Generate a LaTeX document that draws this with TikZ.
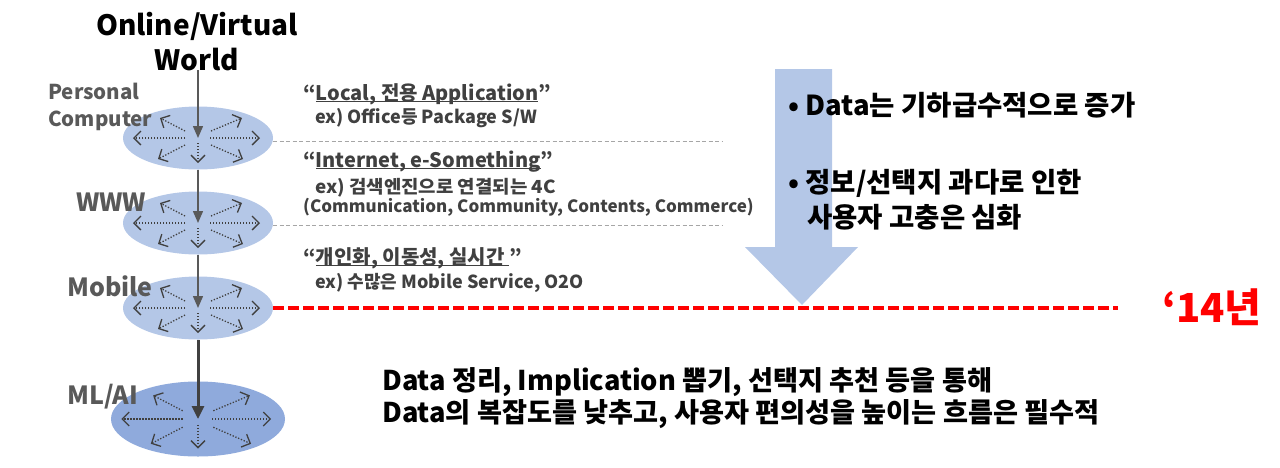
\documentclass[tikz,border=0pt]{standalone}
\usepackage{fontspec}
\setmainfont{Noto Sans CJK KR}
\usetikzlibrary{arrows.meta,shapes.geometric}
\definecolor{lightell}{RGB}{180,199,231}
\definecolor{darkell}{RGB}{143,170,220}
\definecolor{labgray}{RGB}{89,89,89}
\definecolor{txtgray}{RGB}{64,64,64}
\definecolor{raygray}{RGB}{64,64,64}
\definecolor{dashgray}{RGB}{166,166,166}
\definecolor{bigarrow}{RGB}{180,199,231}
\definecolor{redline}{RGB}{255,0,0}
\tikzset{
  ell/.style={ellipse, fill=lightell, draw=none, minimum width=150pt, minimum height=63pt, inner sep=0pt},
  ray/.style={draw=raygray, line width=1.3pt, dash pattern=on 1.3pt off 1.7pt, -{Straight Barb[length=7pt,width=14pt,line width=1.3pt]}},
  rays/.pic={
    \draw[ray] (-13,0) -- (-65,0);
    \draw[ray] (12,0) -- (62,0);
    \draw[ray] (-13,-7) -- (-38,-20);
    \draw[ray] (13,-7) -- (44,-20);
    \draw[ray] (-13,7) -- (-40,21);
    \draw[ray] (13,7) -- (45,21);
    \draw[ray] (0,5) -- (0,25);
  },
  mainarrow/.style={draw=labgray, line width=1.5pt, -{Triangle[length=12pt,width=10pt]}},
  thickarrow/.style={draw=txtgray, line width=3pt, -{Triangle[length=13pt,width=12pt]}},
  lab/.style={font=\fontsize{25}{29}\selectfont\bfseries, text=labgray, inner sep=0pt, anchor=base west},
  labs/.style={lab, font=\fontsize{20.5}{24}\selectfont\bfseries},
  quote/.style={font=\fontsize{20}{24}\selectfont\bfseries, text=txtgray, inner sep=0pt, anchor=base west},
  ex/.style={font=\fontsize{18}{21}\selectfont\bfseries, text=txtgray, inner sep=0pt, anchor=base west},
  big/.style={font=\fontsize{27.5}{32}\selectfont\bfseries, text=black, inner sep=0pt, anchor=base west},
  bottom/.style={big, font=\fontsize{27.2}{32}\selectfont\bfseries},
  graydash/.style={draw=dashgray, line width=0.9pt, dash pattern=on 4pt off 2.5pt},
  reddash/.style={draw=redline, line width=4pt, dash pattern=on 11pt off 4pt},
}
\newcommand{\ul}[1]{\underline{\smash{#1}}}
\begin{document}
\begin{tikzpicture}[x=1pt,y=-1pt]
\useasboundingbox (0,0) rectangle (1280,467);
% big arrow
\fill[bigarrow] (775,69) -- (832,69) -- (832,247) -- (858,247) -- (802,305) -- (745,247) -- (775,247) -- cycle;
% ellipses
\node[ell] (e1) at (198,138) {};
\node[ell] (e2) at (198,223) {};
\node[ell] (e3) at (198,308) {};
\node[ell, fill=darkell, minimum width=174pt, minimum height=75pt] (e4) at (198,419) {};
\pic at (e1.center) {rays};
\pic at (e2.center) {rays};
\pic at (e3.center) {rays};
\pic[scale=1.18] at (e4.center) {rays};
% title
\node[font=\fontsize{28}{33}\selectfont\bfseries, inner sep=0pt, anchor=base] (t1) at (197,35) {Online/Virtual};
\node[font=\fontsize{28}{33}\selectfont\bfseries, inner sep=0pt, anchor=base] (t2) at (197,70) {World};
\coordinate (t2b) at (198,70);
% connectors
\draw[mainarrow] (t2b) -- (e1.center);
\draw[mainarrow] (e1.south) -- (e2.center);
\draw[mainarrow] (e2.south) -- (e3.center);
\draw[thickarrow] (e3.south) -- (e4.center);
% dashed lines
\coordinate (d1) at (723,141);
\coordinate (d2) at (723,225);
\coordinate (r1) at (1118,308);
\draw[graydash] (e1.east |- d1) -- (d1);
\draw[graydash] (e2.east |- d2) -- (d2);
\draw[reddash] (e3.east) -- (r1);
% labels
\node[labs] (lpc1) at (48,99) {Personal};
\node[labs] (lpc2) at (48,126) {Computer};
\node[lab] (lwww) at (76,211) {WWW};
\node[lab] (lmob) at (67,296) {Mobile};
\node[lab] (lml) at (67,404) {ML/AI};
% descriptions
\node[quote] (q1) at (303,100) {“\ul{Local, 전용 Application}”};
\node[ex] (x1) at (315,123) {ex) Office등 Package S/W};
\node[quote] (q2) at (303,167) {“\ul{Internet, e-Something}”};
\node[ex] (x2) at (315,193) {\scalebox{1.05}[1]{ex) 검색엔진으로 연결되는 4C}};
\node[ex, font=\fontsize{17}{20}\selectfont\bfseries] (x2b) at (303,212) {(Communication, Community, Contents, Commerce)};
\node[quote] (q3) at (303,264) {“\ul{개인화, 이동성, 실시간 }”};
\node[ex] (x3) at (315,288) {ex) 수많은 Mobile Service, O2O};
% bullets
\node[big] (b1) at (788,115) {• Data는 기하급수적으로 증가};
\node[big] (b2) at (788,192) {• 정보/선택지 과다로 인한};
\node[big] (b3) at (807,227) {사용자 고충은 심화};
% year
\node[font=\fontsize{40}{44}\selectfont\bfseries, text=redline, inner sep=0pt, anchor=base west] (yr) at (1162,322) {‘14년};
% bottom text
\node[bottom] (m1) at (382,390) {Data 정리, Implication 뽑기, 선택지 추천 등을 통해};
\node[bottom] (m2) at (382,422) {Data의 복잡도를 낮추고, 사용자 편의성을 높이는 흐름은 필수적};
\end{tikzpicture}
\end{document}
